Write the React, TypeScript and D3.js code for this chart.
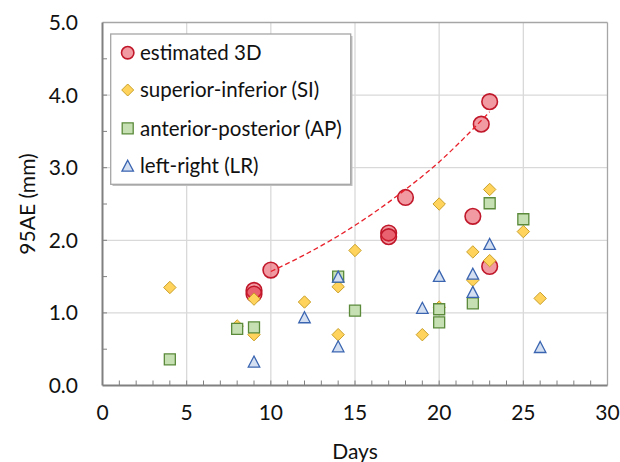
import React from 'react'
import * as d3 from 'd3'

// values
const days3D = [9, 9, 10, 17, 17, 18, 22, 22.5, 23, 23]
const values3D = [1.31, 1.26, 1.59, 2.1, 2.05, 2.59, 2.33, 3.6, 3.91, 1.64]

const daysSI = [4, 8, 9, 9, 12, 14, 14, 15, 19, 20, 20, 22, 22, 23, 23, 25, 26]
const valuesSI = [1.35, 0.82, 1.19, 0.7, 1.15, 1.36, 0.7, 1.86, 0.7, 2.5, 1.08, 1.84, 1.45, 2.7, 1.72, 2.12, 1.2]

const daysAP = [4, 8, 9, 14, 15, 20, 20, 22, 23, 25]
const valuesAP = [0.36, 0.78, 0.8, 1.5, 1.03, 1.05, 0.87, 1.13, 2.51, 2.29]

const daysLR = [9, 12, 14, 14, 19, 20, 22, 22, 23, 26]
const valuesLR = [0.33, 0.94, 1.5, 0.54, 1.07, 1.51, 1.54, 1.29, 1.95, 0.53]

// dashed trend line of the estimated 3D series
const trendDays = [10, 12, 14, 16, 18, 20, 22, 23]
const trendValues = [1.57, 1.8, 2.06, 2.36, 2.7, 3.08, 3.53, 3.77]

const xTicks = [0, 5, 10, 15, 20, 25, 30]
const yTicks = [0, 1, 2, 3, 4, 5]

const legendLabels = ['estimated 3D', 'superior-inferior (SI)', 'anterior-posterior (AP)', 'left-right (LR)']

const FONT = 'Lato, "Open Sans", sans-serif'

const diamond = (r: number) => `M0,${-r}L${r},0L0,${r}L${-r},0Z`
const square = (s: number) => `M${-s / 2},${-s / 2}h${s}v${s}h${-s}Z`
const triangle = (w: number, h: number) => `M0,${-h / 2}L${w / 2},${h / 2}L${-w / 2},${h / 2}Z`

const styles = {
    circle: { fill: 'rgba(224,32,48,0.45)', stroke: '#C0182A', strokeWidth: 1.6 },
    diamond: { fill: '#FFD35C', stroke: '#C9A02A', strokeWidth: 1 },
    square: { fill: '#C6E0B4', stroke: '#5A8A3A', strokeWidth: 1.3 },
    triangle: { fill: '#D4E0F2', stroke: '#3A64B0', strokeWidth: 1.3 },
}

export default function App() {
    const left = 102.5, right = 607.5, top = 22.5, bottom = 385.5

    const x = d3.scaleLinear().domain([0, 30]).range([left, right])
    const y = d3.scaleLinear().domain([0, 5]).range([bottom, top])

    const trendLine = d3.line<number>()
        .x((d, i) => x(trendDays[i]))
        .y(d => y(d))
        .curve(d3.curveMonotoneX)

    const minorX = d3.range(1, 30)
    const minorY = d3.range(0.5, 5, 0.5)

    const legendRows = [52.7, 90, 128.3, 165.7]
    const legendMarkers = [
        <circle r={6.2} {...styles.circle} />,
        <path d={diamond(6)} {...styles.diamond} />,
        <path d={square(11)} {...styles.square} />,
        <path d={triangle(11.5, 11)} {...styles.triangle} />,
    ]

    return (
        <svg width={620} height={462} style={{ position: 'absolute', left: 0, top: 0, background: '#fff' }}>
            {/* grid */}
            {xTicks.slice(1, -1).map(t => (
                <line key={'gx' + t} x1={x(t)} x2={x(t)} y1={top} y2={bottom} stroke="#D9D9D9" strokeWidth={1.3} />
            ))}
            {yTicks.slice(1, -1).map(t => (
                <line key={'gy' + t} x1={left} x2={right} y1={y(t)} y2={y(t)} stroke="#D9D9D9" strokeWidth={1.3} />
            ))}

            {/* frame */}
            <line x1={left} x2={right} y1={top} y2={top} stroke="#A6A6A6" strokeWidth={1.3} />
            <line x1={right} x2={right} y1={top} y2={bottom} stroke="#A6A6A6" strokeWidth={1.3} />

            {/* minor ticks, pointing inside */}
            {minorX.map(t => (
                <line key={'mx' + t} x1={x(t)} x2={x(t)} y1={bottom} y2={bottom - 5} stroke="#808080" strokeWidth={1} />
            ))}
            {minorY.map(t => (
                <line key={'my' + t} x1={left} x2={left + 4.5} y1={y(t)} y2={y(t)} stroke="#808080" strokeWidth={1} />
            ))}

            <line x1={left} x2={left} y1={top} y2={bottom} stroke="#808080" strokeWidth={2} />
            <line x1={left} x2={right} y1={bottom} y2={bottom} stroke="#808080" strokeWidth={2} />

            {/* tick labels */}
            {xTicks.map(t => (
                <text key={'tx' + t} x={x(t)} y={420} textAnchor="middle" fontFamily={FONT} fontSize={21} fill="#111">{t}</text>
            ))}
            {yTicks.map(t => (
                <text key={'ty' + t} x={78} y={y(t)} dy="0.36em" textAnchor="end" fontFamily={FONT} fontSize={21} fill="#111">{t.toFixed(1)}</text>
            ))}

            <text x={(left + right) / 2} y={459} textAnchor="middle" fontFamily={FONT} fontSize={21} fill="#111">Days</text>
            <text transform={`translate(35,${(top + bottom) / 2}) rotate(-90)`} textAnchor="middle" fontFamily={FONT} fontSize={21} fill="#111">95AE (mm)</text>

            {/* series */}
            {days3D.map((d, i) => (
                <circle key={'c' + i} cx={x(d)} cy={y(values3D[i])} r={7.8} {...styles.circle} />
            ))}
            {daysSI.map((d, i) => (
                <path key={'d' + i} transform={`translate(${x(d)},${y(valuesSI[i])})`} d={diamond(6.2)} {...styles.diamond} />
            ))}
            {daysAP.map((d, i) => (
                <path key={'s' + i} transform={`translate(${x(d)},${y(valuesAP[i])})`} d={square(11)} {...styles.square} />
            ))}
            {daysLR.map((d, i) => (
                <path key={'t' + i} transform={`translate(${x(d)},${y(valuesLR[i])})`} d={triangle(11.5, 11)} {...styles.triangle} />
            ))}

            <path d={trendLine(trendValues) || ''} fill="none" stroke="#E8202A" strokeWidth={1.3} strokeDasharray="5 3" />

            {/* legend */}
            <rect x={112.5} y={36} width={240} height={150} fill="#BFBFBF" />
            <rect x={110.7} y={34} width={240} height={150.3} fill="#fff" stroke="#A6A6A6" strokeWidth={1.3} />
            {legendLabels.map((label, i) => (
                <g key={label} transform={`translate(127.7,${legendRows[i]})`}>
                    {legendMarkers[i]}
                    <text x={12.3} dy="0.36em" fontFamily={FONT} fontSize={20.5} fill="#111">{label}</text>
                </g>
            ))}
        </svg>
    )
}
